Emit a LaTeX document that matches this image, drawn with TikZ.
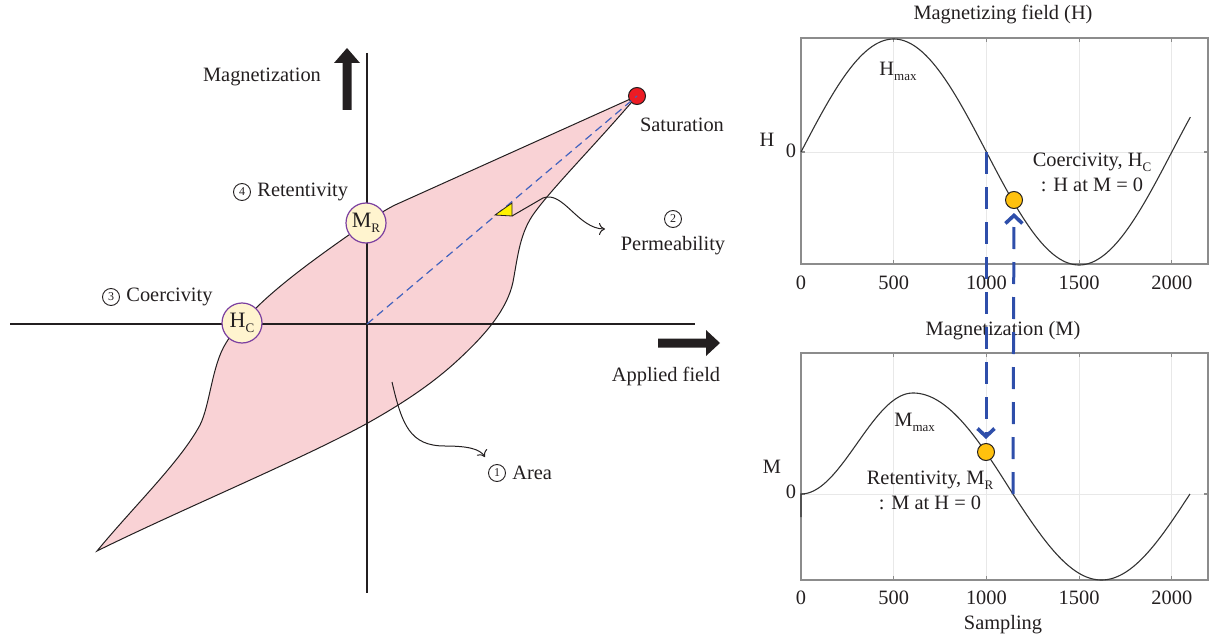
\documentclass[tikz,border=0pt]{standalone}
\usepackage{fontspec}
\setmainfont{Liberation Serif}
\usetikzlibrary{arrows.meta}
\definecolor{loopfill}{HTML}{F9D2D5}
\definecolor{ink}{HTML}{231F20}
\definecolor{cyel}{HTML}{FFF4CF}
\definecolor{cpur}{HTML}{7B3FA0}
\definecolor{satred}{HTML}{EC1C24}
\definecolor{dblue}{HTML}{4262BE}
\definecolor{arrblue}{HTML}{2E4EAA}
\definecolor{odotc}{HTML}{FFC10E}
\definecolor{gridc}{HTML}{E8E8E8}
\definecolor{framec}{HTML}{8C8C8C}
\definecolor{curvec}{HTML}{333333}
\definecolor{triy}{HTML}{FFF200}
\newcommand\lsub[1]{\raisebox{-0.55ex}{\fontsize{6.5}{7}\selectfont #1}}
\tikzset{
  lbl/.style={font=\fontsize{10.2}{12}\selectfont, inner sep=0pt, text=ink},
  cnum/.style={circle, draw=ink, line width=0.45pt, inner sep=0pt, minimum size=8.5pt, font=\fontsize{6}{6}\selectfont, text=ink},
  bigdot/.style={circle, draw=cpur, fill=cyel, line width=0.6pt, minimum size=20pt, inner sep=0pt, font=\fontsize{11}{12}\selectfont, text=ink},
  satdot/.style={circle, draw=ink, fill=satred, line width=0.5pt, minimum size=8.5pt, inner sep=0pt},
  odot/.style={circle, draw=ink, fill=odotc, line width=0.5pt, minimum size=8.5pt, inner sep=0pt},
  axisline/.style={draw=ink, line width=1.2pt},
  thinarrow/.style={draw=ink, line width=0.5pt, -{To[length=3pt,width=6pt]}},
  bluedash/.style={draw=arrblue, line width=1.5pt, dash pattern=on 11pt off 6.5pt, -{Straight Barb[length=4pt,width=8.5pt,line width=1.8pt]}, shorten >=2pt},
  gridl/.style={draw=gridc, line width=0.4pt},
  framel/.style={draw=framec, line width=0.6pt},
  curvel/.style={draw=curvec, line width=0.55pt},
}
\begin{document}
\begin{tikzpicture}[x=0.5pt,y=-0.5pt]
\useasboundingbox (0,0) rectangle (1210,642);

% ---------------- hysteresis loop ----------------
\draw[fill=loopfill, draw=ink, line width=0.5pt, line join=miter]
  (97,551) .. controls (135,505) and (180,462) .. (200,425)
  .. controls (210,405) and (212,365) .. (226,343)
  .. controls (232,333) and (236,329) .. (242,323)
  .. controls (270,290) and (320,255) .. (366,223)
  .. controls (376,216) and (385,210) .. (395,205)
  -- (637,96)
  .. controls (595,145) and (555,185) .. (535,212)
  .. controls (520,232) and (518,255) .. (513,282)
  .. controls (507,310) and (485,335) .. (458,360)
  .. controls (431,385) and (400,405) .. (366,424)
  .. controls (300,460) and (180,510) .. (97,551)
  -- cycle;

% axes
\draw[axisline] (10,324) -- (695,324);
\draw[axisline] (367,53) -- (367,593);
\coordinate (O) at (367,324);

% thick axis arrows
\fill[ink] (347,48) -- (360,63) -- (351.5,63) -- (351.5,110) -- (342.5,110) -- (342.5,63) -- (334,63) -- cycle;
\fill[ink] (720,343) -- (706,330) -- (706,338.5) -- (658,338.5) -- (658,347.5) -- (706,347.5) -- (706,356) -- cycle;

% saturation + permeability line
\node[satdot] (sat) at (637,96) {};
\draw[draw=dblue, line width=0.6pt, dash pattern=on 4pt off 2.5pt] (O) -- (sat.center);
\draw[fill=triy, draw=ink, line width=0.4pt] (495,215) -- (512,203) -- (512,216) -- cycle;
\coordinate (tri) at (512,216);
\coordinate (pend) at (605,229);
\draw[thinarrow] (tri) -- (543,198) .. controls (563,190) and (578,229) .. (pend);

% area arrow
\coordinate (astart) at (392,382);
\coordinate (aend) at (485,457);
\draw[thinarrow] (astart) .. controls (402,425) and (410,446) .. (445,446) .. controls (468,446) and (480,449) .. (aend);

% circles
\node[bigdot] (HC) at (242,323) {H\lsub{C}};
\node[bigdot] (MR) at (366,223) {M\lsub{R}};

% labels
\node[lbl] (lmag) at (262,77) {Magnetization};
\node[lbl] (lsat) at (682,125) {Saturation};
\node[cnum] (n2) at (673,219) {2};
\node[lbl] (lperm) at (673,246) {Permeability};
\node[lbl] (lapp) at (666,376) {Applied field};
\node[cnum] (n4) at (242,192) {4};
\node[lbl, anchor=west] (lret) at (257,192) {Retentivity};
\node[cnum] (n3) at (111,297) {3};
\node[lbl, anchor=west] (lcoe) at (126,297) {Coercivity};
\node[cnum] (n1) at (497,473) {1};
\node[lbl, anchor=west] (lare) at (512,473) {Area};

% ---------------- top plot: H ----------------
\foreach \t in {500,1000,1500,2000} {
  \draw[gridl] ({801+0.1854*\t},38) -- ({801+0.1854*\t},264);
}
\draw[gridl] (801,152) -- (1208,152);
\draw[framel] (801,38) rectangle (1208,264);
\foreach \t in {0,500,1000,1500,2000} {
  \draw[framel] ({801+0.1854*\t},264) -- ({801+0.1854*\t},260);
  \draw[framel] ({801+0.1854*\t},38) -- ({801+0.1854*\t},42);
  \node[lbl] at ({801+0.1854*\t},283) {\t};
}
\draw[framel] (801,152) -- (805,152);
\draw[framel] (1208,152) -- (1204,152);
\draw[curvel] plot[domain=0:2100, samples=160] ({801+0.1854*\x},{152-113*sin(0.18*\x)});
\node[lbl] (ttl1) at (1003,15) {Magnetizing field (H)};
\node[lbl] (Hlab) at (767,140) {H};
\node[lbl] (H0) at (791,151) {0};
\node[lbl, anchor=west] (hmax) at (879,71) {H\lsub{max}};
\node[lbl] (coe1) at (1092,162) {Coercivity, H\lsub{C}};
\node[lbl] (coe2) at (1092,185) {: H at M = 0};

% ---------------- bottom plot: M ----------------
\foreach \t in {500,1000,1500,2000} {
  \draw[gridl] ({801+0.1854*\t},353) -- ({801+0.1854*\t},580);
}
\draw[gridl] (801,494) -- (1208,494);
\draw[framel] (801,353) rectangle (1208,580);
\foreach \t in {0,500,1000,1500,2000} {
  \draw[framel] ({801+0.1854*\t},580) -- ({801+0.1854*\t},576);
  \draw[framel] ({801+0.1854*\t},353) -- ({801+0.1854*\t},357);
  \node[lbl] at ({801+0.1854*\t},598) {\t};
}
\draw[framel] (801,494) -- (805,494);
\draw[framel] (1208,494) -- (1204,494);
\draw[curvel] (801,517) -- (801,494)
  -- plot[domain=0:604, samples=60] ({801+0.1854*\x},{494-50.5*(1-cos(\x*0.29801))})
  -- plot[domain=604:1143, samples=60] ({801+0.1854*\x},{494-101*cos((\x-604)*0.16698)})
  -- plot[domain=1143:2098, samples=90] ({801+0.1854*\x},{494+86*sin((\x-1143)*0.18848)});
\node[lbl] (ttl2) at (1003,331) {Magnetization (M)};
\node[lbl] (Mlab) at (772,467) {M};
\node[lbl] (M0) at (791,492) {0};
\node[lbl, anchor=west] (mmax) at (894,422) {M\lsub{max}};
\node[lbl] (ret1) at (930,480) {Retentivity, M\lsub{R}};
\node[lbl] (ret2) at (930,503) {: M at H = 0};
\node[lbl] (samp) at (1003,625) {Sampling};

% dots and dashed arrows
\node[odot] (hcdot) at (1014,200) {};
\node[odot] (mrdot) at (986,452) {};
\coordinate (a0) at (986,152);
\coordinate (b0) at (1013,494);
\draw[bluedash] (a0) -- (mrdot);
\draw[bluedash] (b0) -- (hcdot);
\end{tikzpicture}
\end{document}
